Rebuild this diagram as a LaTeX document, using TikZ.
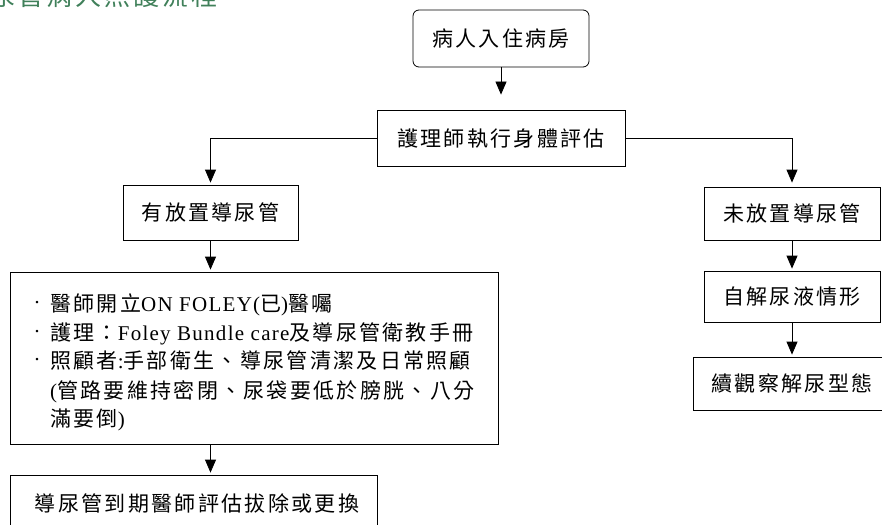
\documentclass[tikz,border=0pt]{standalone}
\usepackage{fontspec}
\setmainfont{Liberation Serif}[LetterSpace=6]
\newfontfamily\cjk{Noto Sans CJK TC}[LetterSpace=11]
\usetikzlibrary{arrows.meta}
\definecolor{titlegreen}{RGB}{64,128,90}
\newcommand\zhtxt[1]{{\fontsize{21}{25}\selectfont\cjk #1}}
\tikzset{
  box/.style={draw, line width=0.8pt, inner sep=0pt},
  txt/.style={font=\fontsize{21}{25}\selectfont\cjk, text height=18.5pt, text depth=2.5pt},
  txtline/.style={anchor=base west, inner sep=0pt, font=\fontsize{21}{25}\selectfont},
  bul/.style={inner sep=0pt, font=\fontsize{21}{25}\selectfont},
  arr/.style={line width=0.8pt, -{Triangle[width=11pt,length=13pt]}},
}
\begin{document}
\begin{tikzpicture}[x=1pt,y=-1pt]
\useasboundingbox (0,0) rectangle (882,524);
% title (cut off at top, as in the reference)
\node[anchor=base west, inner sep=0pt, text=titlegreen, font=\fontsize{26}{30}\selectfont\cjk] (title) at (-40,6) {導尿管病人照護流程};
% main column
\node[box, rounded corners=6pt, minimum width=176pt, minimum height=57pt, txt] (b1) at (501,38.5) {病人入住病房};
\node[box, minimum width=248pt, minimum height=56pt, txt] (b2) at (501,138) {護理師執行身體評估};
\node[box, minimum width=175pt, minimum height=55pt, txt] (b3) at (210.5,212.5) {有放置導尿管};
\node[box, minimum width=488pt, minimum height=172pt] (b4) at (254,358) {};
\node[box, minimum width=367pt, minimum height=70pt] (b5) at (193.5,510) {};
\node[txt, inner sep=0pt] (b5t) at (197,503) {導尿管到期醫師評估拔除或更換};
% box 4 text
\node[bul] (d1) at (37,305) {·};
\node[bul] (d2) at (37,334) {·};
\node[bul] (d3) at (37,362) {·};
\node[txtline] (l1) at (50,311) {\zhtxt{醫師開立}ON FOLEY(\zhtxt{已})\zhtxt{醫囑}};
\node[txtline] (l2) at (50,340) {\zhtxt{護理：}Foley Bundle care\zhtxt{及導尿管衛教手冊}};
\node[txtline] (l3) at (50,368) {\zhtxt{照顧者}:\zhtxt{手部衛生、導尿管清潔及日常照顧}};
\node[txtline] (l4) at (50,398) {(\zhtxt{管路要維持密閉、尿袋要低於膀胱、八分}};
\node[txtline] (l5) at (50,426) {\zhtxt{滿要倒})};
% right column
\node[box, minimum width=176pt, minimum height=53pt, txt] (r1) at (792,213.5) {未放置導尿管};
\node[box, minimum width=176pt, minimum height=51pt, txt] (r2) at (792,296.5) {自解尿液情形};
\node[box, minimum width=210pt, minimum height=53pt] (r3) at (798,383.5) {};
\node[txt, inner sep=0pt] (r3t) at (792,383.5) {續觀察解尿型態};
% connectors
\draw[arr, shorten >=15pt] (b1) -- (b2);
\draw[arr, shorten >=2pt] (b2.west) -| (b3.north);
\draw[arr, shorten >=4pt] (b2.east) -| (r1.north);
\draw[arr, shorten >=2pt] (b3.south) -- (b3.south |- b4.north);
\draw[arr, shorten >=2pt] (b3.south |- b4.south) -- (b3.south |- b5.north);
\draw[arr, shorten >=2pt] (r1) -- (r2);
\draw[arr, shorten >=2pt] (r2.south) -- (r2.south |- r3.north);
\end{tikzpicture}
\end{document}
